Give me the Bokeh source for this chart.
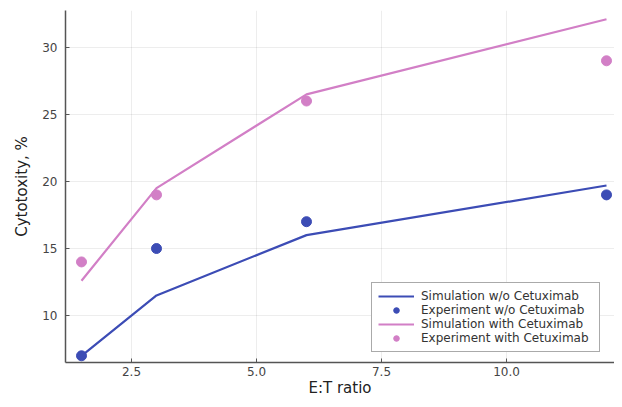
from bokeh.plotting import figure
from bokeh.models import FixedTicker, Range1d, Legend, LegendItem, NumeralTickFormatter
from bokeh.embed import file_html
from bokeh.resources import INLINE

et_ratio = [1.5, 3, 6, 12]
sim_without = [7.0, 11.5, 16.0, 19.7]
exp_without = [7.0, 15.0, 17.0, 19.0]
sim_with = [12.6, 19.5, 26.5, 32.1]
exp_with = [14.0, 19.0, 26.0, 29.0]
x_ticks = [2.5, 5.0, 7.5, 10.0]
y_ticks = [10, 15, 20, 25, 30]

BLUE = "#3c4cb5"
PINK = "#d27fc6"
FONT = "DejaVu Sans"

p = figure(width=614, height=399, output_backend="svg", toolbar_location=None,
           x_range=Range1d(1.18, 12.16), y_range=Range1d(6.5, 32.75),
           min_border_left=65, min_border_right=0, min_border_top=10, min_border_bottom=33)
p.outline_line_color = None
p.background_fill_color = "white"

l1 = p.line(et_ratio, sim_without, line_color=BLUE, line_width=2.2)
c1 = p.scatter(et_ratio, exp_without, size=10, fill_color=BLUE, line_color=BLUE)
l2 = p.line(et_ratio, sim_with, line_color=PINK, line_width=2.2)
c2 = p.scatter(et_ratio, exp_with, size=10, fill_color=PINK, line_color=PINK)

for ax in (p.xaxis[0], p.yaxis[0]):
    ax.axis_line_color = "#555555"
    ax.axis_line_width = 1.5
    ax.major_tick_line_color = "#555555"
    ax.major_tick_in = 4
    ax.major_tick_out = 0
    ax.minor_tick_line_color = None
    ax.major_label_text_font = FONT
    ax.major_label_text_font_size = "12px"
    ax.major_label_text_color = "#444444"
    ax.axis_label_text_font = FONT
    ax.axis_label_text_font_size = "15px"
    ax.axis_label_text_font_style = "normal"
    ax.axis_label_text_color = "#222222"

p.xaxis.ticker = FixedTicker(ticks=x_ticks)
p.xaxis.formatter = NumeralTickFormatter(format="0.0")
p.yaxis.ticker = FixedTicker(ticks=y_ticks)
p.xaxis.axis_label = "E:T ratio"
p.yaxis.axis_label = "Cytotoxity, %"
p.xaxis.major_label_standoff = 4
p.yaxis.major_label_standoff = 8
p.xaxis.axis_label_standoff = 0
p.yaxis.axis_label_standoff = 8

p.xgrid.grid_line_color = "#000000"
p.xgrid.grid_line_alpha = 0.07
p.ygrid.grid_line_color = "#000000"
p.ygrid.grid_line_alpha = 0.07
p.xgrid.ticker = FixedTicker(ticks=x_ticks)
p.ygrid.ticker = FixedTicker(ticks=y_ticks)

legend = Legend(items=[
    LegendItem(label="Simulation w/o Cetuximab", renderers=[l1]),
    LegendItem(label="Experiment w/o Cetuximab", renderers=[c1]),
    LegendItem(label="Simulation with Cetuximab", renderers=[l2]),
    LegendItem(label="Experiment with Cetuximab", renderers=[c2]),
], location=(306, 10))
legend.label_text_font = FONT
legend.label_text_font_size = "12px"
legend.label_text_color = "#333333"
legend.label_height = 14
legend.label_width = 172
legend.glyph_height = 14
legend.glyph_width = 36
legend.label_standoff = 7
legend.spacing = 0
legend.padding = 6
legend.margin = 0
legend.border_line_color = "#555555"
legend.border_line_width = 1.5
legend.background_fill_alpha = 1.0
p.add_layout(legend, "center")

open("out.html", "w").write(file_html(p, INLINE))
